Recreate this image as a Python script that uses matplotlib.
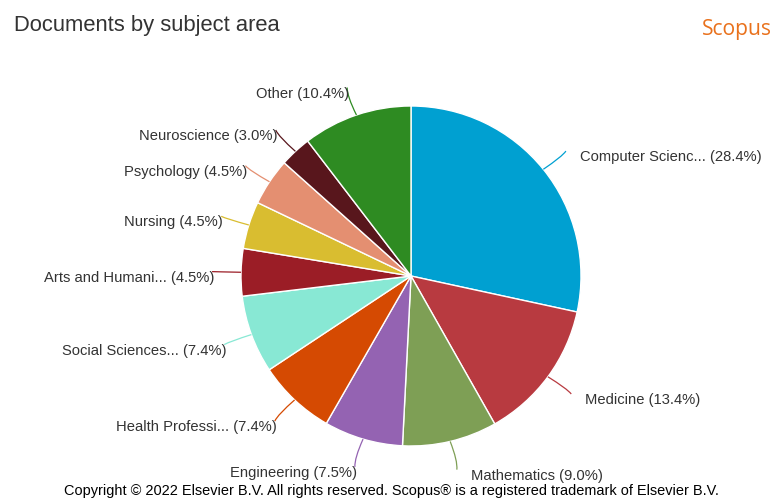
import numpy as np
import matplotlib
matplotlib.use("Agg")
import matplotlib.pyplot as plt
from matplotlib.path import Path
from matplotlib.patches import PathPatch

# Subject areas and their share of documents (%)
subjects = [
    "Computer Scienc...", "Medicine", "Mathematics", "Engineering",
    "Health Professi...", "Social Sciences...", "Arts and Humani...",
    "Nursing", "Psychology", "Neuroscience", "Other",
]
shares = [28.4, 13.4, 9.0, 7.5, 7.4, 7.4, 4.5, 4.5, 4.5, 3.0, 10.4]
colors = [
    "#00a0d1", "#b83a40", "#7e9f55", "#9463b2", "#d54a02", "#88e8d4",
    "#9b1d26", "#d9bd30", "#e48f71", "#58161c", "#2e8b22",
]

W, H = 774, 498
fig = plt.figure(figsize=(W / 100, H / 100), dpi=100)
ax = fig.add_axes([0, 0, 1, 1])

cx, cy, r = 411, H - 276, 170
wedges, _ = ax.pie(
    shares, colors=colors, startangle=90, counterclock=False,
    center=(cx, cy), radius=r,
    wedgeprops=dict(edgecolor="white", linewidth=1.0),
)
ax.set_xlim(0, W)
ax.set_ylim(0, H)
ax.set_aspect("equal")
ax.axis("off")

label_font = dict(family="Liberation Sans", fontsize=10.6, color="#333333")

total = sum(shares)
cum = 0.0
for name, val, col in zip(subjects, shares, colors):
    mid = cum + val / 2
    cum += val
    ang = np.deg2rad(90 - 360 * mid / total)
    ca, sa = np.cos(ang), np.sin(ang)
    right = ca >= 0
    p0 = (cx + r * ca, cy + r * sa)
    p2 = (cx + (r + 29) * ca, cy + (r + 29) * sa)
    p1 = (cx + (r + 20) * ca + (3 if right else -3), cy + (r + 20) * sa)
    path = Path([p0, p1, p2], [Path.MOVETO, Path.CURVE3, Path.CURVE3])
    ax.add_patch(PathPatch(path, facecolor="none", edgecolor=col, lw=0.9))
    tx = p2[0] + (14 if right else 2)
    ax.text(tx, p2[1] - 6, f"{name} ({val:.1f}%)",
            ha="left" if right else "right", va="center", **label_font)

fig.text(14 / W, 1 - 25 / H, "Documents by subject area",
         family="Liberation Sans", fontsize=15.8, color="#333333",
         ha="left", va="center")
fig.text(772 / W, 1 - 30 / H, "Scopus", family="Open Sans", fontsize=15.2,
         color="#e9711c", ha="right", va="center")
fig.text(391 / W, 1 - 491 / H,
         "Copyright © 2022 Elsevier B.V. All rights reserved. "
         "Scopus® is a registered trademark of Elsevier B.V.",
         family="Liberation Sans", fontsize=10.45, color="#000000",
         ha="center", va="center")

fig.savefig("out.png", dpi=100)
